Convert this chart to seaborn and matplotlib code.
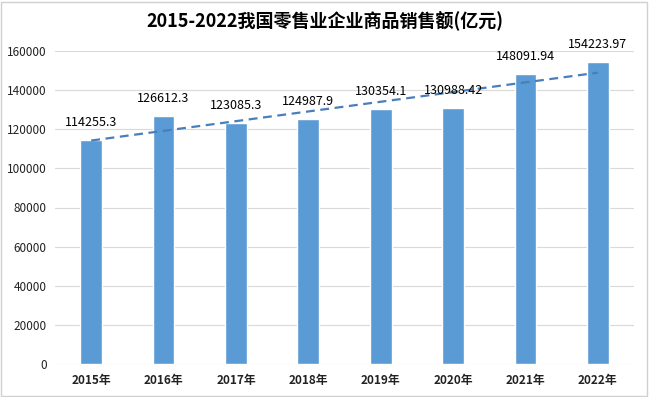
import numpy as np
import pandas as pd
import seaborn as sns
import matplotlib.pyplot as plt
from matplotlib.patches import Rectangle

sns.set_theme(style="white")
plt.rcParams['font.family'] = ['Noto Sans CJK SC', 'DejaVu Sans']

years = ["2015年", "2016年", "2017年", "2018年", "2019年", "2020年", "2021年", "2022年"]
sales = [114255.3, 126612.3, 123085.3, 124987.9, 130354.1, 130988.42, 148091.94, 154223.97]
value_labels = ["114255.3", "126612.3", "123085.3", "124987.9", "130354.1", "130988.42", "148091.94", "154223.97"]

df = pd.DataFrame({"year": years, "sales": sales})

fig = plt.figure(figsize=(6.49, 3.97), dpi=100)
ax = fig.add_axes([55 / 649, 33 / 397, 579 / 649, 313 / 397])

sns.barplot(data=df, x="year", y="sales", color="#5B9BD5", saturation=1, width=0.3, ax=ax)

# linear trendline like the excel one
xs = np.arange(len(sales))
k, b = np.polyfit(xs, sales, 1)
ax.plot(xs, k * xs + b, ls=(0, (4, 2.5)), color="#4A7EBB", lw=1.6, zorder=3)

for i, (v, s) in enumerate(zip(sales, value_labels)):
    ax.annotate(s, (i, v), xytext=(0, 8), textcoords="offset points",
                ha="center", va="bottom", fontsize=9, color="#000000")

ax.set_ylim(0, 160000)
ax.set_xlim(-0.5, len(sales) - 0.5)
ax.set_yticks(range(0, 160001, 20000))
ax.yaxis.grid(True, color="#D9D9D9", lw=0.8)
ax.set_axisbelow(True)
for sp in ax.spines.values():
    sp.set_visible(False)
ax.tick_params(axis="both", length=0, colors="#222222")
ax.tick_params(axis="y", labelsize=8.5, pad=6)
ax.tick_params(axis="x", labelsize=8.5, pad=7)
for t in ax.get_xticklabels():
    t.set_fontweight("bold")
ax.set_xlabel("")
ax.set_ylabel("")

fig.text(0.5, 1 - 21 / 397, "2015-2022我国零售业企业商品销售额(亿元)", ha="center", va="center",
         fontsize=13, fontweight="bold", color="#000000")

fig.patches.append(Rectangle((0.002, 0.003), 0.995, 0.993, transform=fig.transFigure,
                             fill=False, edgecolor="#D0D0D0", lw=1))

plt.savefig("out.png", dpi=100)
